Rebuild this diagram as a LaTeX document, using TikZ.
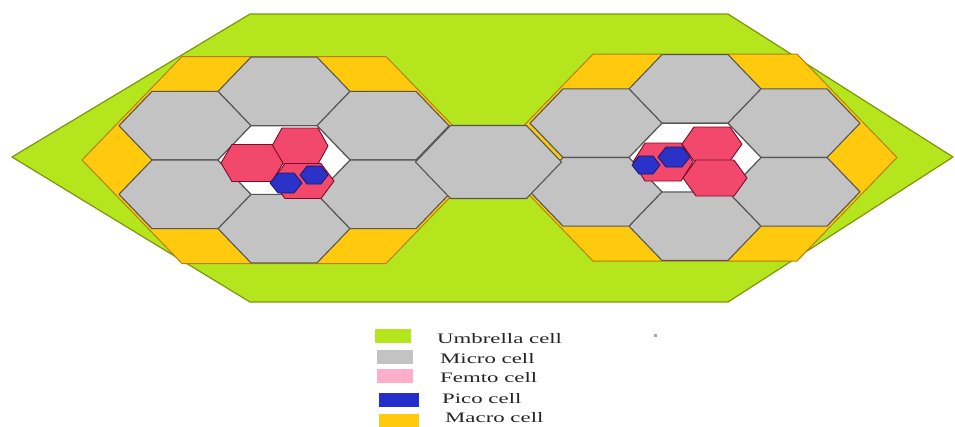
\documentclass[tikz,border=0pt]{standalone}
\usepackage{fontspec}
\setmainfont{Liberation Serif}
\definecolor{umbrellaC}{RGB}{181,230,29}
\definecolor{umbrellaD}{RGB}{125,150,10}
\definecolor{macroC}{RGB}{255,201,14}
\definecolor{macroD}{RGB}{175,130,10}
\definecolor{microC}{RGB}{195,195,195}
\definecolor{microD}{RGB}{85,85,85}
\definecolor{femtoC}{RGB}{242,72,108}
\definecolor{femtoD}{RGB}{125,10,40}
\definecolor{femtoL}{RGB}{255,174,201}
\definecolor{picoC}{RGB}{42,50,200}
\definecolor{picoD}{RGB}{25,25,110}
\definecolor{picoL}{RGB}{35,45,205}
\tikzset{
  umbrella/.style={fill=umbrellaC,draw=umbrellaD,line width=1.2bp,line join=round},
  macro/.style={fill=macroC,draw=macroD,line width=1bp,line join=round},
  micro/.style={fill=microC,draw=microD,line width=1.1bp,line join=round},
  hole/.style={fill=white,draw=microD,line width=1.1bp,line join=round},
  femto/.style={fill=femtoC,draw=femtoD,line width=0.9bp,line join=round},
  pico/.style={fill=picoC,draw=picoD,line width=0.8bp,line join=round},
  swatch/.style={minimum width=36bp,minimum height=14bp,inner sep=0pt,draw=none},
  legtext/.style={anchor=west,inner sep=0pt,font=\fontsize{14.5}{16}\selectfont,text=black!85}
}
% style, cx, cy, half-width, half top edge, half-height
\newcommand{\hexcell}[6]{%
  \draw[#1] ({#2-#4},{#3}) -- ({#2-#5},{#3-#6}) -- ({#2+#5},{#3-#6})
    -- ({#2+#4},{#3}) -- ({#2+#5},{#3+#6}) -- ({#2-#5},{#3+#6}) -- cycle;}
% cluster: cx, cy
\newcommand{\cellcluster}[2]{%
  \hexcell{macro}{#1}{#2}{202}{102}{103.5}
  \hexcell{micro}{#1}{#2-68.6}{66}{33}{34.3}
  \hexcell{micro}{#1}{#2+68.6}{66}{33}{34.3}
  \hexcell{micro}{#1-99}{#2-34.3}{66}{33}{34.3}
  \hexcell{micro}{#1-99}{#2+34.3}{66}{33}{34.3}
  \hexcell{micro}{#1+99}{#2-34.3}{66}{33}{34.3}
  \hexcell{micro}{#1+99}{#2+34.3}{66}{33}{34.3}
  \hexcell{hole}{#1}{#2}{66}{33}{34.3}}
\begin{document}
\begin{tikzpicture}[x=1bp,y=-1bp]
\useasboundingbox (0,0) rectangle (955,426);
\fill[white] (0,0) rectangle (955,426);
% umbrella cell
\draw[umbrella] (12,157) -- (250,14) -- (728,14) -- (953,157) -- (728,302) -- (250,302) -- cycle;
% clusters
\cellcluster{284}{160}
\cellcluster{695}{157.5}
% shared micro cell in the middle
\hexcell{micro}{488.5}{162}{73}{38}{36.5}
% left femto and pico cells
\hexcell{femto}{300}{146}{28}{18}{18}
\hexcell{femto}{303}{181}{31}{18}{17.5}
\hexcell{femto}{252}{163}{31}{20}{18.5}
\hexcell{pico}{286}{183}{16}{8}{10}
\hexcell{pico}{314}{175}{14}{7}{9}
% right femto and pico cells
\hexcell{femto}{712}{144}{30}{18}{17}
\hexcell{femto}{715}{178}{32}{19}{18}
\hexcell{femto}{663}{162}{30}{18}{19}
\hexcell{pico}{646}{165}{14}{7}{9}
\hexcell{pico}{674}{157}{16}{8}{10}
% legend
\node[swatch,fill=umbrellaC] (sw1) at (392.5,335.5) {};
\node[swatch,fill=microC] (sw2) at (395,356.5) {};
\node[swatch,fill=femtoL] (sw3) at (395,376) {};
\node[swatch,fill=picoL,minimum width=40bp] (sw4) at (398.5,400) {};
\node[swatch,fill=macroC,minimum width=40bp] (sw5) at (398.5,421) {};
\node[legtext] (t1) at (437,339) {\scalebox{1.58}[1]{Umbrella cell}};
\node[legtext] (t2) at (440,358.5) {\scalebox{1.58}[1]{Micro cell}};
\node[legtext] (t3) at (440,378) {\scalebox{1.58}[1]{Femto cell}};
\node[legtext] (t4) at (442,399) {\scalebox{1.58}[1]{Pico cell}};
\node[legtext] (t5) at (445,417.5) {\scalebox{1.58}[1]{Macro cell}};
\fill[black!35] (654,334) rectangle (656.5,336.5);
\end{tikzpicture}
\end{document}
